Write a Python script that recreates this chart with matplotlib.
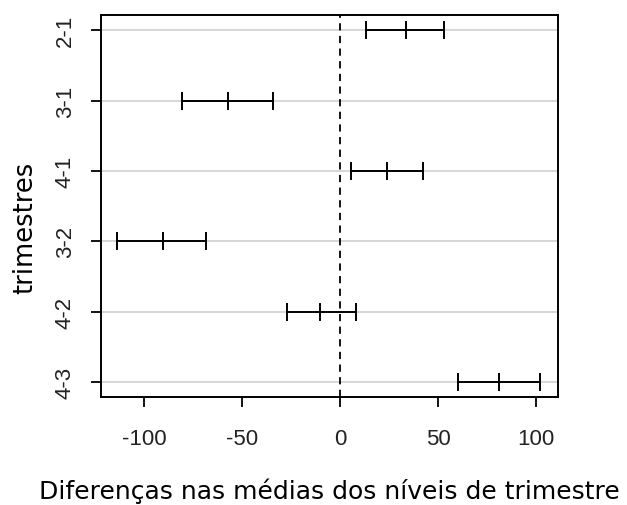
import numpy as np
import matplotlib
matplotlib.use("Agg")
import matplotlib.pyplot as plt

# comparacoes de Tukey entre trimestres
pares = ["2-1", "3-1", "4-1", "3-2", "4-2", "4-3"]
diff = [33.5, -57.1, 24.0, -90.5, -10.2, 81.1]
lwr = [13.1, -80.4, 5.8, -113.8, -26.9, 60.2]
upr = [52.9, -34.0, 42.2, -68.2, 8.0, 102.0]
xticks = [-100, -50, 0, 50, 100]

fig = plt.figure(figsize=(6.27, 5.06), dpi=100)
ax = fig.add_axes([0.161, 0.2134, 0.729, 0.7546])

y = np.arange(1, len(pares) + 1)

# linhas de grade horizontais
for yi in y:
    ax.axhline(yi, color="#cfcfcf", lw=1.2, zorder=1)

ax.axvline(0, color="black", lw=1.3, ls=(0, (4, 3)), zorder=2)

for i in range(len(pares)):
    ax.plot([lwr[i], upr[i]], [y[i], y[i]], color="black", lw=1.4, zorder=3)
    ax.plot([lwr[i], diff[i], upr[i]], [y[i]] * 3, ls="none", marker="|",
            markersize=13, markeredgewidth=1.4, color="black", zorder=3)

ax.set_xlim(-121.9, 111.2)
ax.set_ylim(len(pares) + 0.213, 1 - 0.213)

ax.set_xticks(xticks)
ax.set_xticklabels([str(v) for v in xticks], fontfamily="Liberation Sans", fontsize=16, color="#222222")
ax.set_yticks(y)
ax.set_yticklabels(pares, fontfamily="Liberation Sans", fontsize=16, rotation=90, va="center", color="#222222")

ax.tick_params(axis="both", direction="out", length=7, width=1.3, color="black")
ax.tick_params(axis="x", pad=15)
ax.tick_params(axis="y", pad=11)

for s in ax.spines.values():
    s.set_linewidth(1.4)
    s.set_color("black")

ax.set_xlabel("Diferenças nas médias dos níveis de trimestre", fontsize=18, labelpad=21)
ax.set_ylabel("trimestres", fontsize=18.5, labelpad=12, y=0.445)

fig.savefig("out.png", dpi=100)
